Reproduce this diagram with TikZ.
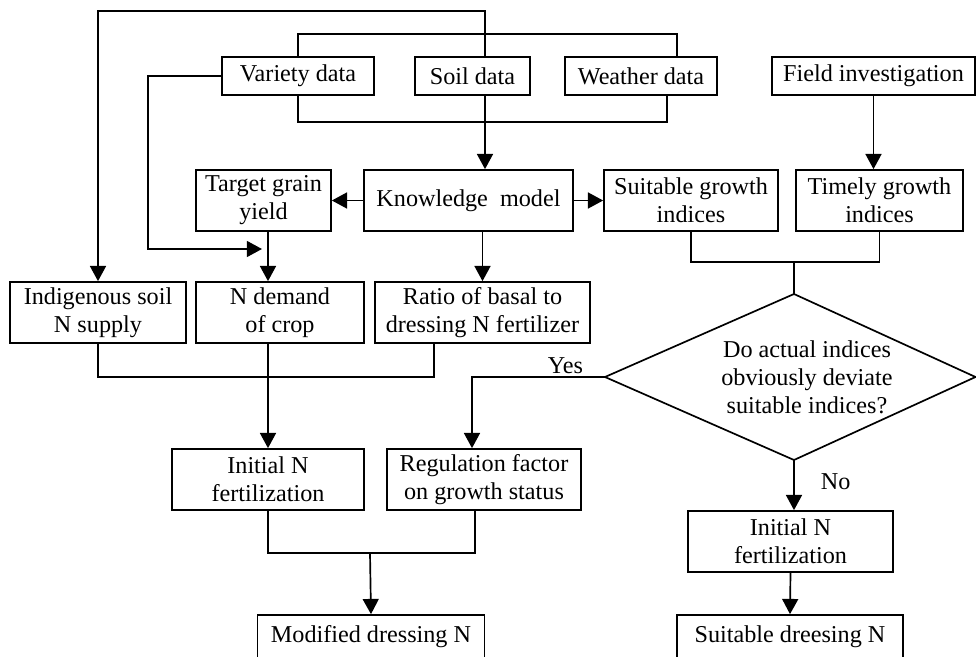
\documentclass[tikz,border=0pt]{standalone}
\usepackage{fontspec}
\setmainfont{Liberation Serif}
\usetikzlibrary{arrows.meta}

\begin{document}
\begin{tikzpicture}[x=0.025cm, y=-0.025cm,
    box/.style={rectangle, draw, line width=1.2pt, minimum height=1.525cm, align=center, inner sep=2pt, font=\fontsize{17.2}{20}\selectfont},
    flat/.style={box, minimum height=0.95cm},
    flow/.style={line width=1.2pt, -{Triangle[length=0.38cm, width=0.4cm]}},
    link/.style={line width=1.2pt}]
                    \useasboundingbox (0,0) rectangle (976,657);
                    % input data
                    \node[flat, minimum width=3.8cm] (variety) at (298, 76) {Variety data};
                    \node[flat, minimum width=2.875cm] (soil) at (472.5, 76) {Soil data};
                    \node[flat, minimum width=3.8cm] (weather) at (641, 76) {Weather data};
                    \node[flat, minimum width=5.075cm] (field) at (873.5, 76) {Field investigation};

                    \node[box, minimum width=5.225cm] (knowledge) at (468.5, 200.5) {Knowledge\ \ model};
                    \node[box, minimum width=3.375cm] (target) at (263.5, 200.5) {Target grain\\yield};
                    \node[box, minimum width=4.35cm] (suitable) at (691, 200.5) {Suitable growth\\indices};
                    \node[box, minimum width=4.175cm] (timely) at (879.5, 200.5) {Timely growth\\indices};

                    \node[box, minimum width=4.4cm] (indigenous) at (98, 312.5) {Indigenous soil\\N supply};
                    \node[box, minimum width=4.2cm] (demand) at (280, 312.5) {N demand\\of crop};
                    \node[box, minimum width=5.375cm] (ratio) at (482.5, 312.5) {Ratio of basal to\\dressing N fertilizer};

                    % decision diamond
                    \node[align=center, font=\fontsize{17.2}{20}\selectfont] (decision) at (807, 377) {Do actual indices\\obviously deviate\\suitable indices?};
                    \coordinate (dtop) at (794, 294);
                    \coordinate (dleft) at (605, 377);
                    \coordinate (dbottom) at (794, 460);
                    \coordinate (dright) at (975.5, 377);
                    \draw[link, line join=miter] (dtop) -- (dleft) -- (dbottom) -- (dright) -- cycle;

                    \node[box, minimum width=4.8cm] (initial) at (268, 479.5) {Initial N\\fertilization};
                    \node[box, minimum width=4.85cm] (regulation) at (484, 479.5) {Regulation factor\\on growth status};
                    \node[box, minimum width=5.125cm] (initialb) at (790.5, 541.5) {Initial N\\fertilization};

                    \node[box, minimum width=5.675cm, minimum height=1.1cm] (modified) at (371, 637) {Modified dressing N};
                    \node[box, minimum width=5.65cm, minimum height=1.1cm] (dressing) at (790, 637) {Suitable dreesing N};

                    \node[font=\fontsize{17.2}{20}\selectfont, anchor=base east] (yes) at (588, 373) {Yes};
                    \node[font=\fontsize{17.2}{20}\selectfont, anchor=base west] (no) at (816, 489) {No};

                    % junction points
                    \coordinate (sx) at (485, 0);
                    \coordinate (wt) at (677, 34);
                    \coordinate (wb) at (667, 122);
                    \coordinate (vl) at (148, 249);
                    \coordinate (vj) at (262, 249);
                    \coordinate (jn) at (794, 262);
                    \coordinate (rj) at (434, 377);
                    \coordinate (yc) at (472, 377);
                    \coordinate (rb) at (475, 553);
                    \coordinate (mj) at (370, 553);

                    \draw[link] (variety.north) |- (wt) -- (wt |- weather.north);
                    \draw[link] (variety.south) |- (wb) -- (wb |- weather.south);
                    \draw[flow] (soil.north -| sx) -- ++(0,-45) -| (indigenous.north);
                    \draw[flow] (soil.south -| sx) -- (knowledge.north -| sx);
                    \draw[flow] (variety.west) -| (vl) -- (vj);
                    \draw[flow] (knowledge.west) -- (target.east);
                    \draw[flow] (knowledge.east) -- (suitable.west);
                    \draw[flow] (field.south) -- (field.south |- timely.north);
                    \draw[flow] (target.south -| initial.north) -- (demand.north -| initial.north);
                    \draw[flow] (knowledge.south -| ratio.north) -- (ratio.north);

                    \draw[link] (suitable.south) |- (jn) -| (timely.south);
                    \draw[link] (jn) -- (dtop);
                    \draw[flow] (dleft) -- (yc) -- (yc |- regulation.north);
                    \draw[flow] (dbottom) -- (dbottom |- initialb.north);
                    \draw[flow] (initialb.south) -- (dressing.north);

                    \draw[link] (indigenous.south) |- (rj) -- (rj |- ratio.south);
                    \draw[flow] (demand.south -| initial.north) -- (initial.north);
                    \draw[link] (initial.south) |- (rb) -- (rb |- regulation.south);
                    \draw[flow] (mj) -- (modified.north);
                \end{tikzpicture}
\end{document}
